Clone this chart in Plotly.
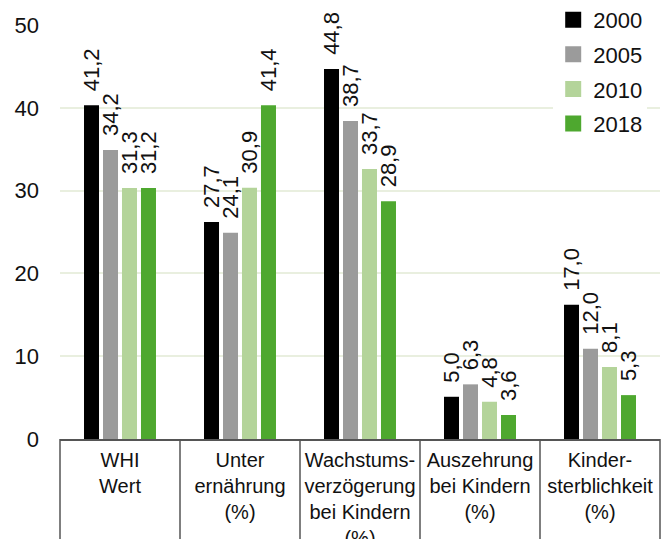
import plotly.graph_objects as go

categories = ["WHI<br>Wert", "Unter<br>ernährung<br>(%)", "Wachstums-<br>verzögerung<br>bei Kindern<br>(%)",
              "Auszehrung<br>bei Kindern<br>(%)", "Kinder-<br>sterblichkeit<br>(%)"]
years = ["2000", "2005", "2010", "2018"]
colors = ["#000000", "#9b9b9b", "#b4d49a", "#4ea82f"]

# bar heights as drawn in the picture
values_2000 = [40.3, 26.2, 44.7, 5.1, 16.2]
values_2005 = [34.9, 24.9, 38.4, 6.6, 10.9]
values_2010 = [30.3, 30.35, 32.6, 4.5, 8.7]
values_2018 = [30.3, 40.3, 28.7, 2.9, 5.3]

# printed data labels
labels_2000 = ["41,2", "27,7", "44,8", "5,0", "17,0"]
labels_2005 = ["34,2", "24,1", "38,7", "6,3", "12,0"]
labels_2010 = ["31,3", "30,9", "33,7", "4,8", "8,1"]
labels_2018 = ["31,2", "41,4", "28,9", "3,6", "5,3"]

values = [values_2000, values_2005, values_2010, values_2018]
labels = [labels_2000, labels_2005, labels_2010, labels_2018]

FONT = "Liberation Sans, Arial, sans-serif"

fig = go.Figure()
for yr, col, v, lab in zip(years, colors, values, labels):
    fig.add_trace(go.Bar(
        x=categories, y=v, name=yr, marker=dict(color=col, line=dict(width=0)),
        text=["\u2002" + t for t in lab], textposition="outside", textangle=-90,
        textfont=dict(size=22, color="#111111", family=FONT),
        cliponaxis=False, constraintext="none", showlegend=False,
    ))
    fig.add_trace(go.Scatter(
        x=[None], y=[None], mode="markers", name=yr, legendgroup=yr,
        marker=dict(symbol="square", size=16, color=col),
    ))

for i in range(6):
    fig.add_shape(type="line", xref="paper", yref="paper", x0=i / 5, x1=i / 5,
                  y0=0, y1=-0.3, line=dict(color="#555555", width=1.5))

fig.update_layout(
    width=670, height=539,
    margin=dict(l=60, r=10, t=25, b=100, autoexpand=False),
    paper_bgcolor="white", plot_bgcolor="white",
    barmode="group", bargap=0.367, bargroupgap=0.21,
    font=dict(family=FONT, color="#111111"),
    legend=dict(x=0.822, xanchor="left", y=1.063, yanchor="top",
                bgcolor="white", font=dict(size=22, family=FONT),
                itemsizing="trace", tracegroupgap=3),
    xaxis=dict(showline=True, linecolor="#555555", linewidth=1.5,
               tickfont=dict(size=20, family=FONT), ticks="",
               ticklabelstandoff=2, showgrid=False, automargin=False),
    yaxis=dict(range=[0, 50], tickvals=[0, 10, 20, 30, 40, 50],
               tickfont=dict(size=22, family=FONT), ticklabelstandoff=20,
               showgrid=True, gridcolor="#e9efdf", gridwidth=1.5,
               zeroline=False, showline=False, automargin=False),
)

fig.write_html("out.html")
